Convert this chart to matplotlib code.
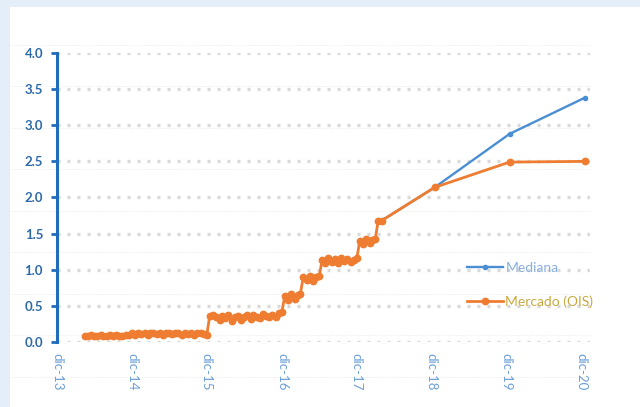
#!/usr/bin/env python3
"""Tasa de política: mediana vs mercado (OIS)."""

import matplotlib

matplotlib.use("Agg")
import matplotlib.pyplot as plt
import matplotlib.ticker as mticker
import pandas as pd
from matplotlib.lines import Line2D
from matplotlib.patches import Rectangle

plt.rcParams["font.family"] = ["Lato", "DejaVu Sans"]

# historical OIS, semi-monthly from 15-Apr-2014
OIS_START = "2014-04-15"
OIS_HIST = [
    # abr-14 .. nov-14
    0.08, 0.08, 0.09, 0.08, 0.08, 0.09, 0.08, 0.08, 0.09, 0.08, 0.09, 0.08, 0.08, 0.09, 0.09,
    # dic-14 .. nov-15
    0.12, 0.10, 0.13, 0.11, 0.12, 0.10, 0.12, 0.13, 0.11, 0.12, 0.10, 0.13,
    0.12, 0.11, 0.13, 0.12, 0.10, 0.13, 0.11, 0.12, 0.10, 0.12, 0.13, 0.11,
    # dic-15
    0.10, 0.36,
    # ene-16 .. dic-16 (1st)
    0.38, 0.35, 0.31, 0.36, 0.33, 0.37, 0.29, 0.34, 0.36, 0.31, 0.35, 0.37,
    0.32, 0.38, 0.35, 0.33, 0.39, 0.36, 0.34, 0.38, 0.35, 0.40, 0.42,
    # dic-16 (15th) .. mar-17 (1st)
    0.64, 0.58, 0.66, 0.60, 0.65, 0.67,
    # mar-17 (15th) .. jun-17 (1st)
    0.90, 0.86, 0.91, 0.85, 0.90, 0.91,
    # jun-17 (15th) .. dic-17 (1st)
    1.14, 1.10, 1.16, 1.11, 1.15, 1.10, 1.16, 1.12, 1.15, 1.11, 1.14, 1.16,
    # dic-17 (15th) .. mar-18 (1st)
    1.40, 1.36, 1.42, 1.37, 1.41, 1.43,
    # mar-18 (15th), abr-18
    1.68, 1.68,
]

FWD_DATES = ["2018-12-15", "2019-12-15", "2020-12-15"]
OIS_FWD = [2.14, 2.49, 2.50]

MED_DATES = ["2018-04-01", "2018-12-15", "2019-12-15", "2020-12-15"]
MEDIANA = [1.68, 2.14, 2.88, 3.38]

TICK_DATES = ["2013-12-01", "2014-12-01", "2015-12-01", "2016-12-01",
              "2017-12-01", "2018-12-01", "2019-12-01", "2020-12-01"]
TICK_LABELS = ["dic-13", "dic-14", "dic-15", "dic-16",
               "dic-17", "dic-18", "dic-19", "dic-20"]
Y_TICKS = [0, 0.5, 1, 1.5, 2, 2.5, 3, 3.5, 4]

C_BLUE = "#4a8fd3"
C_ORANGE = "#ee7d31"
C_AXIS = "#1f6cbd"
C_YTXT = "#2e6aa8"
C_XTXT = "#6c9fd6"


def main():
    fig = plt.figure(figsize=(6.4, 4.07), dpi=100, facecolor="#e3eef9")
    fig.add_artist(Rectangle((10 / 640, 0), 1, 400 / 407, transform=fig.transFigure,
                             facecolor="white", edgecolor="none", zorder=-2))
    # faint page rules behind the chart
    for ypx in [45, 86, 128, 169, 211, 252, 294, 335, 377]:
        fig.add_artist(Line2D([10 / 640, 590 / 640], [1 - ypx / 407] * 2,
                              transform=fig.transFigure, color="#e8e8e8",
                              lw=0.6, ls=(0, (1, 1.5)), zorder=-1))

    ax = fig.add_axes([57 / 640, 1 - 342 / 407, 533 / 640, 289 / 407])
    ax.set_facecolor("none")
    ax.set_zorder(1)

    hist_dates = pd.date_range(OIS_START, periods=len(OIS_HIST), freq="SMS")
    ois_dates = list(hist_dates) + list(pd.to_datetime(FWD_DATES))
    ois_vals = OIS_HIST + OIS_FWD

    ax.plot(pd.to_datetime(MED_DATES), MEDIANA, color=C_BLUE, lw=1.7,
            marker="o", ms=3, zorder=3, label="Mediana")
    ax.plot(ois_dates, ois_vals, color=C_ORANGE, lw=2, marker="o", ms=4.6,
            zorder=4, label="Mercado (OIS)")

    ax.set_ylim(0, 4)
    ax.set_xlim(pd.Timestamp("2013-12-01"), pd.Timestamp("2021-01-10"))
    ax.set_yticks(Y_TICKS)
    ax.set_yticklabels([f"{v:.1f}" for v in Y_TICKS])
    ax.set_xticks(pd.to_datetime(TICK_DATES))
    ax.set_xticklabels(TICK_LABELS, rotation=270, color=C_XTXT, fontsize=9.5)
    ax.xaxis.set_minor_locator(mticker.NullLocator())

    ax.grid(axis="y", color="#d9d9d9", lw=2.4, ls=(0, (0.9, 2.1)), zorder=0)
    ax.grid(axis="x", visible=False)
    for s in ["top", "right", "bottom"]:
        ax.spines[s].set_visible(False)
    ax.spines["left"].set_color(C_AXIS)
    ax.spines["left"].set_linewidth(2.2)
    ax.tick_params(axis="y", colors=C_AXIS, length=4, width=2, pad=6,
                   labelcolor=C_YTXT, labelsize=9.5)
    ax.tick_params(axis="x", length=0, pad=8)
    for t in ax.get_yticklabels():
        t.set_fontweight("bold")

    ax.legend(loc="upper left", bbox_to_anchor=(0.745, 0.32), frameon=False,
              fontsize=10, handlelength=2.6, handletextpad=0.2, labelspacing=1.55,
              labelcolor=["#88b0e0", "#c9a93f"])

    fig.savefig("out.png", dpi=100, facecolor=fig.get_facecolor())
    plt.close(fig)


if __name__ == "__main__":
    main()
